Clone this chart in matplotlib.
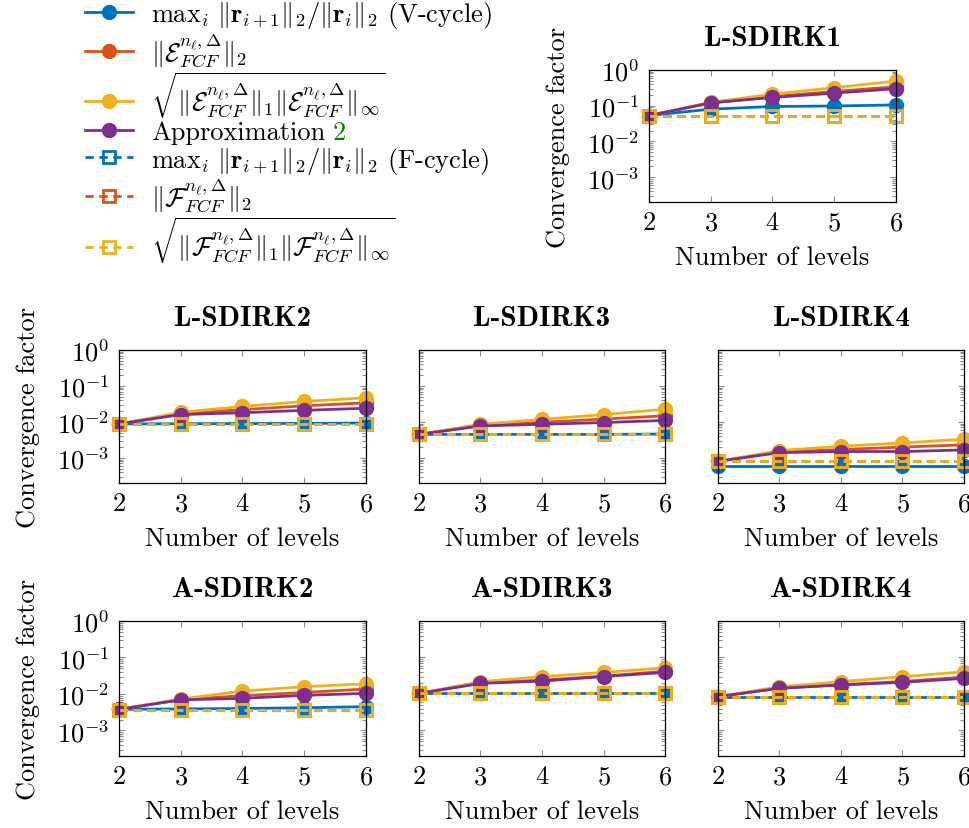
import numpy as np
import matplotlib
matplotlib.use('Agg')
import matplotlib.pyplot as plt
from matplotlib.ticker import LogLocator, NullFormatter

plt.rcParams['font.family'] = 'serif'
plt.rcParams['font.serif'] = ['cmr10']
plt.rcParams['mathtext.fontset'] = 'cm'
plt.rcParams['axes.formatter.use_mathtext'] = True
plt.rcParams['font.size'] = 19

# данные
levels = [2, 3, 4, 5, 6]
panels = ['L-SDIRK1', 'L-SDIRK2', 'L-SDIRK3', 'L-SDIRK4', 'A-SDIRK2', 'A-SDIRK3', 'A-SDIRK4']

# V-цикл (сплошные линии, кружки)
vcycle = [
    [0.053, 0.080, 0.095, 0.098, 0.105],
    [0.0088, 0.0089, 0.0090, 0.0091, 0.0093],
    [0.0045, 0.0045, 0.0045, 0.0045, 0.0046],
    [0.0006, 0.0006, 0.0006, 0.0006, 0.0006],
    [0.0038, 0.0039, 0.0040, 0.0042, 0.0045],
    [0.0104, 0.0104, 0.0104, 0.0104, 0.0104],
    [0.0085, 0.0085, 0.0085, 0.0085, 0.0085],
]
e_two = [
    [0.053, 0.12, 0.18, 0.25, 0.34],
    [0.0088, 0.017, 0.022, 0.028, 0.034],
    [0.0045, 0.0080, 0.0098, 0.012, 0.0148],
    [0.0008, 0.0015, 0.0017, 0.0020, 0.0023],
    [0.0038, 0.0070, 0.0090, 0.011, 0.0137],
    [0.0104, 0.020, 0.024, 0.031, 0.042],
    [0.0085, 0.0146, 0.018, 0.022, 0.029],
]
e_sqrt = [
    [0.053, 0.125, 0.21, 0.32, 0.49],
    [0.0088, 0.0185, 0.027, 0.037, 0.047],
    [0.0045, 0.0086, 0.0118, 0.016, 0.0224],
    [0.0008, 0.0016, 0.0021, 0.0026, 0.0033],
    [0.0038, 0.0073, 0.012, 0.0159, 0.0190],
    [0.0104, 0.0218, 0.0297, 0.039, 0.052],
    [0.0085, 0.0158, 0.0218, 0.0297, 0.0406],
]
approx = [
    [0.053, 0.12, 0.17, 0.225, 0.30],
    [0.0088, 0.016, 0.018, 0.021, 0.024],
    [0.0045, 0.0077, 0.0086, 0.0096, 0.011],
    [0.0008, 0.0014, 0.0015, 0.0015, 0.00166],
    [0.0038, 0.0069, 0.0076, 0.0092, 0.0104],
    [0.0104, 0.0195, 0.0226, 0.030, 0.039],
    [0.0085, 0.0143, 0.0176, 0.0209, 0.0268],
]
# F-цикл (штриховые линии, квадраты)
fcycle = [
    [0.051, 0.051, 0.051, 0.051, 0.051],
    [0.0087, 0.0087, 0.0087, 0.0087, 0.0087],
    [0.0045, 0.0045, 0.0045, 0.0045, 0.0045],
    [0.0008, 0.0008, 0.0008, 0.0008, 0.0008],
    [0.0037, 0.0037, 0.0037, 0.0037, 0.0037],
    [0.0104, 0.0104, 0.0104, 0.0104, 0.0104],
    [0.0085, 0.0085, 0.0085, 0.0085, 0.0085],
]
f_two = [
    [0.053, 0.053, 0.053, 0.053, 0.053],
    [0.0088, 0.0088, 0.0088, 0.0088, 0.0088],
    [0.0045, 0.0045, 0.0045, 0.0045, 0.0045],
    [0.0008, 0.0008, 0.0008, 0.0008, 0.0008],
    [0.0037, 0.0037, 0.0037, 0.0037, 0.0037],
    [0.0104, 0.0104, 0.0104, 0.0104, 0.0104],
    [0.0085, 0.0085, 0.0085, 0.0085, 0.0085],
]
f_sqrt = [
    [0.053, 0.053, 0.053, 0.053, 0.053],
    [0.0088, 0.0088, 0.0088, 0.0088, 0.0088],
    [0.0045, 0.0045, 0.0045, 0.0045, 0.0045],
    [0.0008, 0.0008, 0.0008, 0.0008, 0.0008],
    [0.0037, 0.0037, 0.0037, 0.0037, 0.0037],
    [0.0104, 0.0104, 0.0104, 0.0104, 0.0104],
    [0.0085, 0.0085, 0.0085, 0.0085, 0.0085],
]

labels = [
    r'$\mathrm{max}_i\ \|\mathbf{r}_{i+1}\|_2/\|\mathbf{r}_i\|_2$ (V-cycle)',
    r'$\|\mathcal{E}_{FCF}^{n_\ell,\Delta}\|_2$',
    r'$\sqrt{\|\mathcal{E}_{FCF}^{n_\ell,\Delta}\|_1\|\mathcal{E}_{FCF}^{n_\ell,\Delta}\|_\infty}$',
    'Approximation',
    r'$\mathrm{max}_i\ \|\mathbf{r}_{i+1}\|_2/\|\mathbf{r}_i\|_2$ (F-cycle)',
    r'$\|\mathcal{F}_{FCF}^{n_\ell,\Delta}\|_2$',
    r'$\sqrt{\|\mathcal{F}_{FCF}^{n_\ell,\Delta}\|_1\|\mathcal{F}_{FCF}^{n_\ell,\Delta}\|_\infty}$',
]

blue, orange, yellow, purple = '#0072BD', '#D95319', '#EDB120', '#7E2F8E'

W, H = 970, 829
# (левый, верхний, правый, нижний) в пикселях
boxes = [
    (649, 71, 896, 203),
    (119, 351, 366, 484), (419, 351, 665, 484), (718, 351, 964, 484),
    (119, 622, 366, 757), (419, 622, 665, 757), (718, 622, 964, 757),
]
first_col = [0, 1, 4]

fig = plt.figure(figsize=(9.7, 8.29), dpi=100)

for k, name in enumerate(panels):
    l, t, r, b = boxes[k]
    ax = fig.add_axes([l / W, (H - b) / H, (r - l) / W, (b - t) / H])
    kw = dict(lw=2, clip_on=False)
    ax.plot(levels, vcycle[k], color=blue, marker='o', ms=10, **kw)
    ax.plot(levels, e_two[k], color=orange, marker='o', ms=10, **kw)
    ax.plot(levels, e_sqrt[k], color=yellow, marker='o', ms=10, **kw)
    ax.plot(levels, approx[k], color=purple, marker='o', ms=10, **kw)
    for vals, c in [(fcycle[k], blue), (f_two[k], orange), (f_sqrt[k], yellow)]:
        ax.plot(levels, vals, color=c, ls='--', dashes=(3, 2), marker='s', ms=8,
                mfc='none', mew=2, **kw)

    ax.set_yscale('log')
    ax.set_ylim(2e-4, 1)
    ax.set_xlim(2, 6)
    ax.set_xticks(levels)
    ax.yaxis.set_major_locator(LogLocator(base=10, numticks=10))
    ax.yaxis.set_minor_locator(LogLocator(base=10, subs=np.arange(2, 10), numticks=10))
    ax.yaxis.set_minor_formatter(NullFormatter())
    ax.tick_params(which='both', direction='in', top=True, right=True,
                   color='#8c8c8c', width=0.8, labelsize=19)
    ax.tick_params(which='major', length=4.5)
    ax.tick_params(which='minor', length=2.8)
    ax.tick_params(axis='y', pad=7)
    ax.tick_params(axis='x', pad=6)
    for s in ax.spines.values():
        s.set_linewidth(0.9)
    ax.set_title(name, fontfamily='cmb10', fontsize=21, pad=18)
    ax.set_xlabel('Number of levels', labelpad=8)
    if k in first_col:
        ax.set_ylabel('Convergence factor', labelpad=12)
    else:
        ax.tick_params(axis='y', labelleft=False)
    if k == 0:
        handles = ax.get_lines()

leg = fig.legend(handles, labels, loc='upper left', bbox_to_anchor=(85 / W, 1.0),
                 frameon=False, borderpad=0, borderaxespad=0, handlelength=1.8,
                 handletextpad=0.7, labelspacing=0.02, fontsize=19)

# зелёная «2» после слова Approximation
fig.canvas.draw()
bb = leg.get_texts()[3].get_window_extent()
fig.text((bb.x1 + 7) / W, bb.y0 / H, '2', ha='left', va='bottom',
         color='#008000', fontsize=19)

fig.savefig('out.png', dpi=100)
